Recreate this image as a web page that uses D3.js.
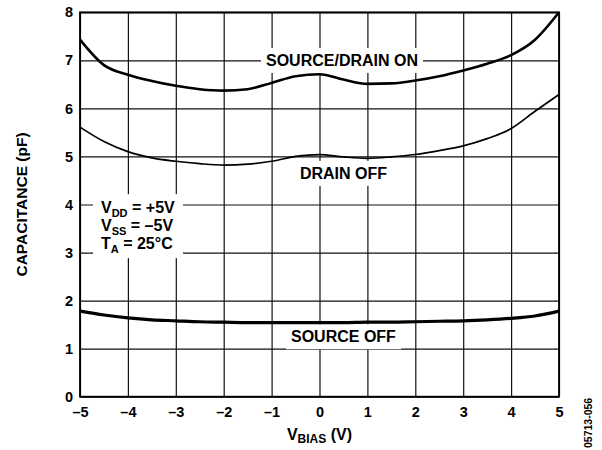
<!DOCTYPE html>
<html>
<head>
<meta charset="utf-8">
<script src="https://cdn.jsdelivr.net/npm/d3@7"></script>
<style>
  body { margin: 0; background: #fff; }
  text { font-family: "Liberation Sans", Arial, sans-serif; font-weight: bold; fill: #000; }
</style>
</head>
<body>
<div id="chart"></div>
<script>
// bias voltage (V), sampled every 0.5 V
const vBias = [-5, -4.5, -4, -3.5, -3, -2.5, -2, -1.5, -1, -0.5, 0, 0.5, 1, 1.5, 2, 2.5, 3, 3.5, 4, 4.5, 5];
// capacitance (pF)
const sourceDrainOn = [7.43, 6.90, 6.70, 6.57, 6.47, 6.40, 6.37, 6.40, 6.53, 6.67, 6.71, 6.60, 6.51, 6.52, 6.58, 6.67, 6.79, 6.93, 7.11, 7.43, 8.0];
const drainOff = [5.61, 5.31, 5.10, 4.97, 4.90, 4.85, 4.82, 4.84, 4.90, 5.00, 5.04, 4.99, 4.96, 4.99, 5.04, 5.12, 5.22, 5.37, 5.58, 5.94, 6.29];
const sourceOff = [1.78, 1.70, 1.64, 1.60, 1.58, 1.56, 1.55, 1.54, 1.54, 1.54, 1.54, 1.54, 1.55, 1.55, 1.56, 1.57, 1.58, 1.60, 1.63, 1.68, 1.78];
const xTicks = [-5, -4, -3, -2, -1, 0, 1, 2, 3, 4, 5];
const yTicks = [0, 1, 2, 3, 4, 5, 6, 7, 8];

let w = 602;
let h = 450;
let marginTop = 12.3;
let marginRight = 43;
let marginBottom = 53.3;
let marginLeft = 80;

let x = d3.scaleLinear().domain([-5, 5]).range([marginLeft, w - marginRight]);
let y = d3.scaleLinear().domain([0, 8]).range([h - marginBottom, marginTop]);

let fmt = function (d) {
  return d < 0 ? "\u2013" + Math.abs(d) : String(d);
};

let svg = d3.select("#chart").append("svg").attr("width", w).attr("height", h);

// grid + tick labels
let gx = svg
  .append("g")
  .attr("transform", `translate(0,${h - marginBottom})`)
  .call(
    d3.axisBottom(x).tickValues(xTicks).tickFormat(fmt)
      .tickSize(-(h - marginTop - marginBottom)).tickPadding(10)
  );
let gy = svg
  .append("g")
  .attr("transform", `translate(${marginLeft},0)`)
  .call(
    d3.axisLeft(y).tickValues(yTicks).tickFormat(fmt)
      .tickSize(-(w - marginLeft - marginRight)).tickPadding(7)
  );
[gx, gy].forEach(function (g) {
  g.select(".domain").remove();
  g.selectAll(".tick line").attr("stroke", "#111").attr("stroke-width", 1.2);
  g.selectAll(".tick text").attr("font-size", 14.5).attr("font-family", null);
});

svg
  .append("rect")
  .attr("x", marginLeft)
  .attr("y", marginTop)
  .attr("width", w - marginLeft - marginRight)
  .attr("height", h - marginTop - marginBottom)
  .attr("fill", "none")
  .attr("stroke", "#000")
  .attr("stroke-width", 1.8);

// label boxes (white backgrounds break the grid)
let boxLayer = svg.append("g");
let lineLayer = svg.append("g");
let textLayer = svg.append("g");

function label(txt, xv, yv) {
  let t = textLayer
    .append("text")
    .attr("x", x(xv))
    .attr("y", y(yv))
    .attr("dy", "0.35em")
    .attr("text-anchor", "middle")
    .attr("font-size", 16)
    .text(txt);
  let b = t.node().getBBox();
  boxLayer
    .append("rect")
    .attr("x", b.x - 5)
    .attr("y", b.y - 4)
    .attr("width", b.width + 10)
    .attr("height", b.height + 8)
    .attr("fill", "#fff");
}

label("SOURCE/DRAIN ON", 0.47, 7.0);
label("DRAIN OFF", 0.5, 4.65);
label("SOURCE OFF", 0.5, 1.25);

// test conditions
let cond = [
  ["V", "DD", " = +5V"],
  ["V", "SS", " = \u20135V"],
  ["T", "A", " = 25\u00b0C"],
];
let cg = textLayer.append("g");
cond.forEach(function (c, i) {
  let t = cg
    .append("text")
    .attr("x", x(-5) + 21)
    .attr("y", y(3.82) + i * 18)
    .attr("font-size", 16);
  t.append("tspan").text(c[0]);
  t.append("tspan").attr("font-size", 11).attr("dy", 4).text(c[1]);
  t.append("tspan").attr("dy", -4).text(c[2]);
});
let cb = cg.node().getBBox();
boxLayer
  .append("rect")
  .attr("x", cb.x - 8)
  .attr("y", cb.y - 5)
  .attr("width", cb.width + 16)
  .attr("height", cb.height + 8)
  .attr("fill", "#fff");

// curves
let line = d3
  .line()
  .x(function (d) { return x(d[0]); })
  .y(function (d) { return y(d[1]); })
  .curve(d3.curveMonotoneX);

[
  [sourceDrainOn, 2.6],
  [drainOff, 1.7],
  [sourceOff, 3.2],
].forEach(function (s) {
  lineLayer
    .append("path")
    .datum(d3.zip(vBias, s[0]))
    .attr("fill", "none")
    .attr("stroke", "#000")
    .attr("stroke-width", s[1])
    .attr("d", line);
});

// axis titles
let xt = svg
  .append("text")
  .attr("x", x(0))
  .attr("y", 440)
  .attr("text-anchor", "middle")
  .attr("font-size", 16);
xt.append("tspan").text("V");
xt.append("tspan").attr("font-size", 12).attr("dy", 3).text("BIAS");
xt.append("tspan").attr("dy", -3).text(" (V)");

svg
  .append("text")
  .attr("transform", `translate(27,${(marginTop + h - marginBottom) / 2}) rotate(-90)`)
  .attr("text-anchor", "middle")
  .attr("font-size", 15.5)
  .text("CAPACITANCE (pF)");

svg
  .append("text")
  .attr("transform", "translate(592,448) rotate(-90)")
  .attr("font-size", 10.5)
  .attr("font-weight", "normal")
  .text("05713-056");
</script>
</body>
</html>
